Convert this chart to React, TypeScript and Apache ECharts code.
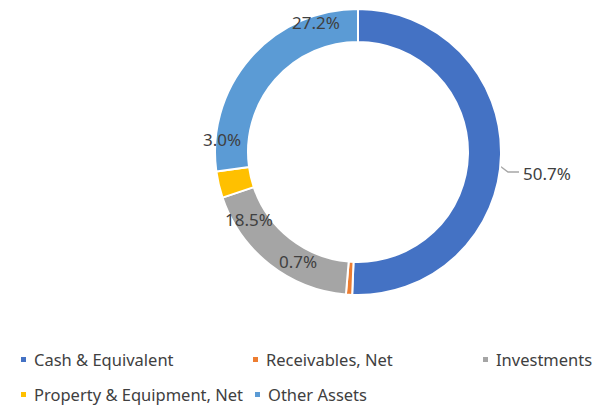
import React, { useEffect, useRef } from "react";
import * as echarts from "echarts";

const categories = [
  "Cash & Equivalent",
  "Receivables, Net",
  "Investments",
  "Property & Equipment, Net",
  "Other Assets",
];
const shares = [50.7, 0.7, 18.5, 3.0, 27.2];
const colors = ["#4472C4", "#ED7D31", "#A5A5A5", "#FFC000", "#5B9BD5"];

// label placement (layout only)
const labelPos: [number, number][] = [
  [547, 173],
  [298, 261],
  [249, 219],
  [222, 139],
  [316, 22],
];
const labelLines: ([number, number][] | null)[] = [
  [[484, 154], [508, 172], [519, 172]],
  [[350, 277], [348, 272], [347, 269]],
  null,
  [[235, 180], [230, 167], [225, 154]],
  null,
];
const legendPos: [number, number][] = [
  [19, 351],
  [251, 351],
  [481, 351],
  [19, 386],
  [253, 386],
];

export default function App() {
  const ref = useRef<HTMLDivElement>(null);
  useEffect(() => {
    if (!ref.current) return;
    const chart = echarts.init(ref.current, null, { renderer: "svg" });
    const font = "'Noto Sans', sans-serif";
    chart.setOption({
      animation: false,
      color: colors,
      legend: categories.map((name, i) => ({
        data: [name],
        left: legendPos[i][0],
        top: legendPos[i][1],
        padding: 0,
        itemWidth: 7,
        itemHeight: 7,
        icon: "rect",
        selectedMode: false,
        textStyle: {
          fontFamily: font,
          fontSize: 16.5,
          color: "#404040",
          padding: [0, 0, 0, 2],
        },
      })),
      series: [
        {
          type: "pie",
          center: [358, 152],
          radius: [110, 143],
          startAngle: 90,
          clockwise: true,
          avoidLabelOverlap: false,
          itemStyle: { borderColor: "#ffffff", borderWidth: 2 },
          label: {
            show: true,
            position: "outside",
            fontFamily: font,
            fontSize: 17,
            color: "#404040",
            formatter: (p: any) => p.value.toFixed(1) + "%",
          },
          labelLine: {
            show: true,
            lineStyle: { color: "#A6A6A6", width: 1.3 },
          },
          labelLayout: (p: any) => {
            const i = p.dataIndex;
            const res: any = {
              x: labelPos[i][0],
              y: labelPos[i][1],
              align: "center",
              verticalAlign: "middle",
            };
            if (labelLines[i]) res.labelLinePoints = labelLines[i];
            return res;
          },
          data: categories.map((name, i) => ({
            name,
            value: shares[i],
            labelLine: { show: labelLines[i] !== null },
          })),
        },
      ],
    });
    return () => chart.dispose();
  }, []);
  return (
    <div
      ref={ref}
      style={{ position: "fixed", left: 0, top: 0, width: 605, height: 406, background: "#fff" }}
    />
  );
}
